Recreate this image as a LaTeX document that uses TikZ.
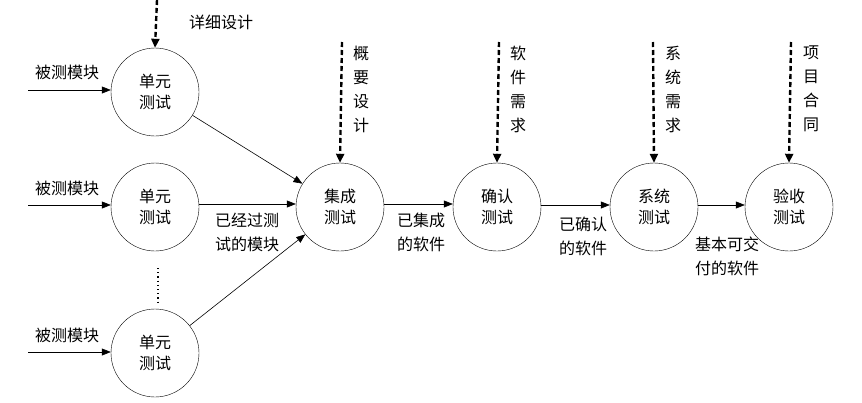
\documentclass[tikz,border=0pt]{standalone}
\usepackage{fontspec}
\setmainfont{Noto Sans CJK SC}
\usetikzlibrary{arrows.meta}
\begin{document}
\begin{tikzpicture}[x=1pt,y=-1pt,
  proc/.style={draw,circle,minimum size=88pt,inner sep=0pt,align=center,font=\fontsize{16}{21}\selectfont},
  lbl/.style={align=center,font=\fontsize{16}{24}\selectfont,inner sep=0pt},
  vlbl/.style={align=center,font=\fontsize{16}{24}\selectfont,inner sep=0pt},
  flow/.style={-{Triangle[length=9pt,width=7pt]},line width=0.6pt},
  req/.style={-{Triangle[length=9pt,width=8pt]},line width=2.4pt,dash pattern=on 5pt off 3pt}]
\useasboundingbox (0,0) rectangle (862,402);
\node[proc] (u1) at (155,92) {单元\\测试};
\node[proc] (u2) at (155,207) {单元\\测试};
\node[proc] (u3) at (155,353) {单元\\测试};
\node[proc] (it) at (340,207) {集成\\测试};
\node[proc] (ct) at (497,207) {确认\\测试};
\node[proc] (st) at (654,207) {系统\\测试};
\node[proc] (at) at (789,207) {验收\\测试};
% inputs
\coordinate (i1) at (28,90);
\coordinate (i2) at (28,205);
\coordinate (i3) at (28,352);
\draw[flow] (i1) -- (u1.west |- i1);
\draw[flow] (i2) -- (u2.west |- i2);
\draw[flow] (i3) -- (u3.west |- i3);
\node[lbl] (l1) at (67,72) {被测模块};
\node[lbl] (l2) at (67,188) {被测模块};
\node[lbl] (l3) at (67,335) {被测模块};
% dashed requirement arrows
\coordinate (d1) at (157,0);
\coordinate (d2) at (342,42);
\coordinate (d3) at (499,42);
\coordinate (d4) at (653,42);
\coordinate (d5) at (791,42);
\draw[req] (d1) -- (u1.north);
\draw[req] (d2) -- (it.north);
\draw[req] (d3) -- (ct.north);
\draw[req] (d4) -- (st.north);
\draw[req] (d5) -- (at.north);
\node[lbl] (r1) at (221,22) {详细设计};
\node[vlbl] (r2) at (361,89) {概\\要\\设\\计};
\node[vlbl] (r3) at (518,89) {软\\件\\需\\求};
\node[vlbl] (r4) at (673,89) {系\\统\\需\\求};
\node[vlbl] (r5) at (811,89) {项\\目\\合\\同};
% flows
\draw[flow] (u1) -- (it);
\draw[flow] (u3) -- (it);
\draw[flow] (u2.east |- 0,204) -- (it.west |- 0,204);
\draw[flow] (it.east |- 0,204) -- (ct.west |- 0,204);
\draw[flow] (ct.east |- 0,205) -- (st.west |- 0,205);
\draw[flow] (st.east |- 0,205) -- (at.west |- 0,205);
\node[lbl] (e1) at (247,232) {已经过测\\试的模块};
\node[lbl] (e2) at (421,232) {已集成\\的软件};
\node[lbl] (e3) at (583,236) {已确认\\的软件};
\node[lbl] (e4) at (727,256) {基本可交\\付的软件};
% dots
\draw[line width=1.2pt,dash pattern=on 1.2pt off 3pt] (158,268) -- (158,302);
\end{tikzpicture}
\end{document}
